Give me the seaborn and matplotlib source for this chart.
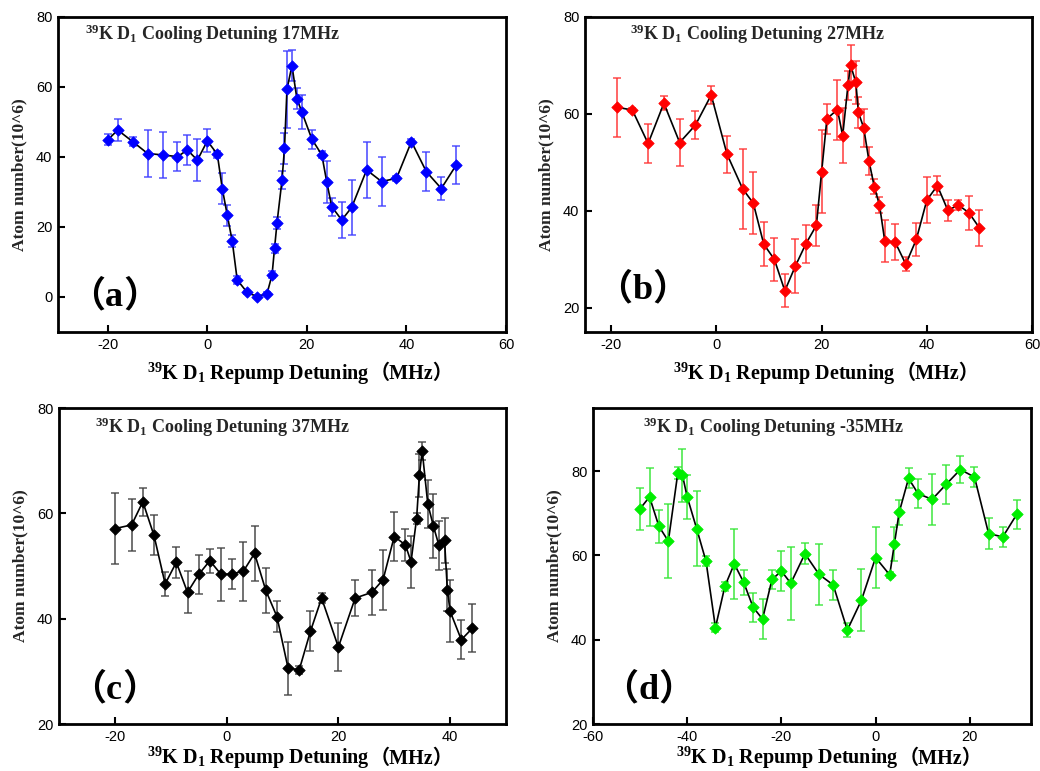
import numpy as np
import pandas as pd
import seaborn as sns
import matplotlib
matplotlib.use("Agg")
import matplotlib.pyplot as plt
from matplotlib.offsetbox import TextArea, HPacker, AnchoredOffsetbox

sns.set_theme(style="ticks")
plt.rcParams.update({
    "font.family": ["Liberation Serif", "Noto Sans CJK SC"],
    "mathtext.fontset": "custom",
    "mathtext.rm": "Liberation Serif:bold",
    "mathtext.it": "Liberation Serif:bold",
    "mathtext.bf": "Liberation Serif:bold",
    "axes.unicode_minus": False,
})

# ---- (a) cooling detuning 17 MHz ----
x_a = [-20, -18, -15, -12, -9, -6, -4, -2, 0, 2, 3, 4, 5, 6, 8, 10, 12, 13, 13.5, 14,
       15, 15.5, 16, 17, 18, 19, 21, 23, 24, 25, 27, 29, 32, 35, 38, 41, 44, 47, 50]
y_a = [44.9, 47.7, 44.4, 41.0, 40.6, 40.1, 42.0, 39.1, 44.6, 40.8, 31.0, 23.4, 16.0, 4.9,
       1.3, 0.1, 1.0, 6.3, 13.9, 21.2, 33.4, 42.5, 59.4, 66.1, 56.6, 52.8, 45.1, 40.6, 32.8,
       25.8, 22.0, 25.6, 36.3, 33.0, 33.9, 44.4, 35.8, 31.0, 37.7]
e_a = [1.6, 3.2, 1.3, 6.6, 6.5, 4.2, 4.4, 6.0, 3.3, 1.0, 4.4, 3.0, 1.8, 1.1,
       0.5, 0.5, 0.5, 1.0, 1.2, 1.7, 2.5, 4.5, 11.0, 4.5, 3.0, 4.9, 2.7, 1.0, 6.0,
       2.6, 5.1, 7.9, 7.9, 6.9, 0.8, 0.8, 5.5, 3.3, 5.5]

# ---- (b) cooling detuning 27 MHz ----
x_b = [-19, -16, -13, -10, -7, -4, -1, 2, 5, 7, 9, 11, 13, 15, 17, 19, 20, 21, 23, 24,
       25, 25.5, 26.5, 27, 28, 29, 30, 31, 32, 34, 36, 38, 40, 42, 44, 46, 48, 50]
y_b = [61.4, 60.8, 53.9, 62.2, 54.1, 57.7, 63.9, 51.7, 44.5, 41.6, 33.1, 30.0, 23.5, 28.6,
       33.2, 37.0, 48.1, 59.0, 60.9, 55.5, 65.9, 70.1, 66.5, 60.3, 57.1, 50.3, 45.0, 41.2,
       33.8, 33.5, 29.0, 34.1, 42.2, 45.2, 40.1, 41.2, 39.6, 36.5]
e_b = [6.1, 0.5, 4.0, 1.4, 4.8, 2.9, 1.9, 3.8, 8.2, 6.4, 4.5, 4.4, 3.4, 5.6,
       3.9, 4.3, 8.6, 3.1, 6.2, 5.7, 3.0, 4.2, 4.4, 3.2, 4.0, 2.9, 1.5, 1.6,
       4.3, 3.7, 1.4, 3.4, 4.7, 2.0, 2.1, 1.0, 3.5, 3.7]

# ---- (c) cooling detuning 37 MHz ----
x_c = [-20, -17, -15, -13, -11, -9, -7, -5, -3, -1, 1, 3, 5, 7, 9, 11, 13, 15, 17, 20,
       23, 26, 28, 30, 32, 33, 34, 34.5, 35, 36, 37, 38, 39, 39.5, 40, 42, 44]
y_c = [57.1, 57.8, 62.2, 55.8, 46.6, 50.7, 45.0, 48.4, 51.0, 48.4, 48.5, 49.0, 52.4, 45.4,
       40.4, 30.6, 30.3, 37.6, 43.9, 34.6, 43.9, 45.0, 47.4, 55.6, 54.0, 50.8, 59.0, 67.2,
       71.9, 61.8, 57.6, 53.9, 54.9, 45.5, 41.4, 36.0, 38.2]
e_c = [6.8, 5.0, 2.7, 3.8, 2.3, 2.9, 4.0, 3.7, 2.3, 5.1, 2.9, 5.6, 5.2, 4.3,
       3.0, 5.0, 0.8, 3.8, 1.0, 4.6, 3.4, 4.3, 5.7, 4.6, 3.1, 4.9, 1.0, 4.1,
       1.7, 4.6, 6.0, 4.7, 4.3, 4.0, 5.9, 3.7, 4.6]

# ---- (d) cooling detuning -35 MHz ----
x_d = [-50, -48, -46, -44, -42, -41, -40, -38, -36, -34, -32, -30, -28, -26, -24, -22,
       -20, -18, -15, -12, -9, -6, -3, 0, 3, 4, 5, 7, 9, 12, 15, 18, 21, 24, 27, 30]
y_d = [71.1, 73.9, 66.9, 63.4, 79.5, 79.0, 73.9, 66.4, 58.6, 42.9, 52.7, 58.0, 53.6, 47.7,
       44.9, 54.3, 56.3, 53.4, 60.4, 55.5, 53.0, 42.3, 49.4, 59.5, 55.4, 62.8, 70.2, 78.3,
       74.7, 73.3, 76.9, 80.4, 78.6, 65.2, 64.4, 69.8]
e_d = [5.0, 6.8, 4.0, 8.8, 1.4, 6.3, 5.3, 8.8, 1.2, 1.1, 1.1, 8.4, 2.9, 3.4,
       4.8, 2.3, 4.8, 8.6, 2.5, 7.3, 3.6, 1.6, 7.4, 7.2, 0.7, 4.0, 2.9, 2.4,
       3.4, 6.0, 4.6, 3.1, 2.4, 3.7, 2.4, 3.4]

panels = [
    dict(x=x_a, y=y_a, err=e_a, color="#0000ff", ecolor="#3a3aff", tag="a",
         cooling="17MHz", rect=[58, 17, 506, 332], xlim=(-30, 60), ylim=(-10, 80),
         xticks=[-20, 0, 20, 40, 60], yticks=[0, 20, 40, 60, 80],
         title_xy=(0.06, 0.945), tag_xy=(0.125, 0.111), xlabel_y=-0.09),
    dict(x=x_b, y=y_b, err=e_b, color="#ff0000", ecolor="#ff3030", tag="b",
         cooling="27MHz", rect=[585, 17, 1032, 332], xlim=(-25, 60), ylim=(15, 80),
         xticks=[-20, 0, 20, 40, 60], yticks=[20, 40, 60, 80],
         title_xy=(0.10, 0.945), tag_xy=(0.128, 0.133), xlabel_y=-0.09),
    dict(x=x_c, y=y_c, err=e_c, color="#000000", ecolor="#404040", tag="c",
         cooling="37MHz", rect=[59, 408, 506, 724], xlim=(-30, 50), ylim=(20, 80),
         xticks=[-20, 0, 20, 40], yticks=[20, 40, 60, 80],
         title_xy=(0.08, 0.94), tag_xy=(0.123, 0.108), xlabel_y=-0.066),
    dict(x=x_d, y=y_d, err=e_d, color="#00ee00", ecolor="#33e633", tag="d",
         cooling="-35MHz", rect=[593, 408, 1031, 724], xlim=(-60, 33), ylim=(20, 95),
         xticks=[-60, -40, -20, 0, 20], yticks=[20, 40, 60, 80],
         title_xy=(0.114, 0.94), tag_xy=(0.126, 0.108), xlabel_y=-0.066),
]

SERIF = "Liberation Serif"
CJK = ["Liberation Serif", "Noto Sans CJK SC"]

W, H = 1040, 771
fig = plt.figure(figsize=(W / 100, H / 100), dpi=100)

for p in panels:
    l, t, r, b = p["rect"]
    ax = fig.add_axes([l / W, 1 - b / H, (r - l) / W, (b - t) / H])
    df = pd.DataFrame({"detuning": p["x"], "atoms": p["y"], "err": p["err"]})

    ax.errorbar(df["detuning"], df["atoms"], yerr=df["err"], fmt="none",
                ecolor=p["ecolor"], alpha=0.8, elinewidth=1.3, capsize=2.6,
                capthick=1.2, zorder=2)
    sns.lineplot(data=df, x="detuning", y="atoms", sort=False, estimator=None,
                 color="black", linewidth=1.2, ax=ax, zorder=3)
    sns.scatterplot(data=df, x="detuning", y="atoms", marker="D", s=34,
                    color=p["color"], edgecolor=p["color"], linewidth=0.5,
                    ax=ax, zorder=4)

    ax.set_xlim(*p["xlim"])
    ax.set_ylim(*p["ylim"])
    ax.set_xticks(p["xticks"])
    ax.set_yticks(p["yticks"])
    ax.tick_params(direction="in", length=5, width=1.5, labelsize=10.5,
                   labelfontfamily="Liberation Sans", colors="black", pad=4,
                   top=False, right=False)
    for s in ax.spines.values():
        s.set_visible(True)
        s.set_linewidth(2)
        s.set_color("black")

    ax.set_xlabel("")
    ax.set_ylabel("Atom number(10^6)", fontsize=12.5, fontweight="bold",
                  family=SERIF, labelpad=6)

    ax.text(*p["title_xy"], r"$^{39}$K D$_1$ Cooling Detuning " + p["cooling"],
            transform=ax.transAxes, fontsize=13, fontweight="bold",
            family=SERIF, va="center", ha="left")

    # panel tag: full-width brackets around a serif letter
    tag_props = dict(fontsize=26, fontweight="bold", color="black")
    tag = HPacker(children=[TextArea("（", textprops=dict(family=CJK, **tag_props)),
                            TextArea(p["tag"], textprops=dict(family=SERIF, **tag_props)),
                            TextArea("）", textprops=dict(family=CJK, **tag_props))],
                  align="baseline", pad=0, sep=0)
    ax.add_artist(AnchoredOffsetbox(loc="center", child=tag, frameon=False,
                                    pad=0, borderpad=0, bbox_to_anchor=p["tag_xy"],
                                    bbox_transform=ax.transAxes))

    part1 = TextArea(r"$^{39}$K D$_1$ Repump Detuning",
                     textprops=dict(fontsize=14.5, fontweight="bold",
                                    family=SERIF, color="black"))
    part2 = TextArea("（MHz）",
                     textprops=dict(fontsize=14.5, fontweight="bold",
                                    family=CJK, color="black"))
    packed = HPacker(children=[part1, part2], align="baseline", pad=0, sep=0)
    label_box = AnchoredOffsetbox(loc="upper center", child=packed, frameon=False,
                                  pad=0, borderpad=0,
                                  bbox_to_anchor=(0.54, p["xlabel_y"]),
                                  bbox_transform=ax.transAxes)
    fig.add_artist(label_box)

fig.savefig("out.png", dpi=100, facecolor="white")
